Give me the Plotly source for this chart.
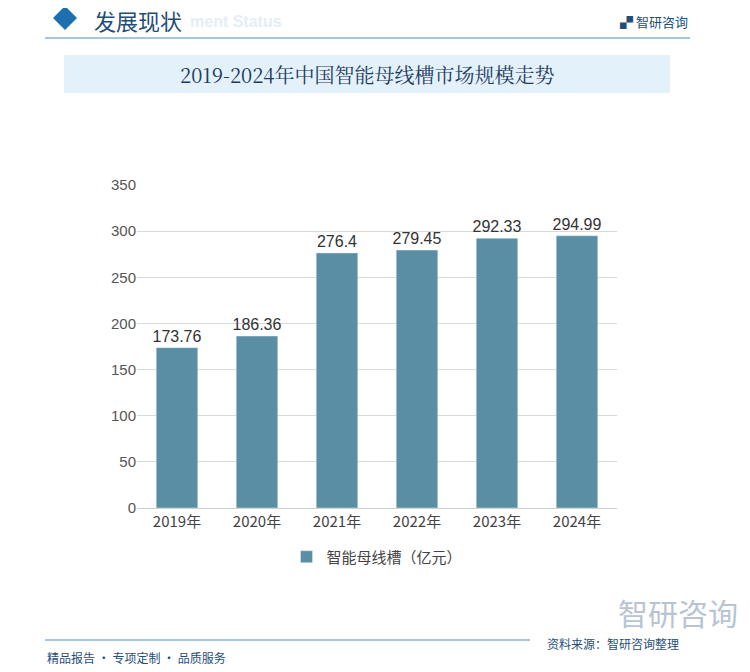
import plotly.graph_objects as go

years = ["2019年", "2020年", "2021年", "2022年", "2023年", "2024年"]
values = [173.76, 186.36, 276.4, 279.45, 292.33, 294.99]
labels = ["173.76", "186.36", "276.4", "279.45", "292.33", "294.99"]
series_name = "智能母线槽（亿元）"

W, H = 750, 672
OFF = 8  # page body margin
L, R, T, B = 137 - OFF, 133 + OFF, 185 - OFF, 164 + OFF
PW, PH = W - L - R, H - T - B

fig = go.Figure()
fig.add_trace(go.Bar(
    x=years, y=values, name=series_name, text=labels, textposition="outside",
    textfont=dict(size=16, color="#333333", family="Liberation Sans"),
    constraintext="none",
    marker=dict(color="#5a8ea4"), cliponaxis=False,
))

def px(x):
    return (x - OFF - L) / PW
def py(y):
    return (H - B - (y - OFF)) / PH

shapes = [
    dict(type="rect", x0=px(64), x1=px(670), y0=py(93), y1=py(55),
         fillcolor="#e3f1fb", line=dict(width=0), layer="below"),
    dict(type="line", x0=px(45), x1=px(690), y0=py(38), y1=py(38),
         line=dict(color="#4a8fc0", width=1)),
    dict(type="path",
         path=f"M {px(53)} {py(18)} L {px(65)} {py(6)} L {px(77)} {py(18)} L {px(65)} {py(30)} Z",
         fillcolor="#1e6fb0", line=dict(width=0)),
    dict(type="line", x0=px(45), x1=px(530), y0=py(640), y1=py(640),
         line=dict(color="#4a8fc0", width=1)),
]
for s in shapes:
    s.update(xref="paper", yref="paper")
ann = [
    dict(text="<b>ment Status</b>", x=px(188), y=py(22), xanchor="left", yanchor="middle",
         font=dict(size=16, color="#e6eef5", family="Liberation Sans")),
    dict(text="发展现状", x=px(92), y=py(20), xanchor="left", yanchor="middle",
         font=dict(size=22, color="#1f4e79", family="Noto Sans CJK SC")),
    dict(text="<b>▞</b> 智研咨询", x=px(690), y=py(22), xanchor="right", yanchor="middle",
         font=dict(size=13, color="#1f4e79", family="Noto Sans CJK SC")),
    dict(text="2019-2024年中国智能母线槽市场规模走势", x=px(367), y=py(74), xanchor="center", yanchor="middle",
         font=dict(size=20, color="#1f3a5f", family="Noto Serif CJK SC, Noto Sans CJK SC")),
    dict(text="精品报告 • 专项定制 • 品质服务", x=px(45), y=py(657), xanchor="left", yanchor="middle",
         font=dict(size=12, color="#1f4e79", family="Noto Sans CJK SC")),
    dict(text="资料来源：智研咨询整理", x=px(545), y=py(643), xanchor="left", yanchor="middle",
         font=dict(size=12, color="#1f4e79", family="Noto Sans CJK SC")),
    dict(text="智研咨询", x=px(740), y=py(612), xanchor="right", yanchor="middle",
         font=dict(size=30, color="#b8c4d2", family="Noto Sans CJK SC")),
]
for a in ann:
    a.update(xref="paper", yref="paper", showarrow=False)

fig.update_layout(
    width=W, height=H, paper_bgcolor="white", plot_bgcolor="white",
    margin=dict(l=L, r=R, t=T, b=B),
    bargap=0.48, showlegend=True,
    legend=dict(orientation="h", x=0.5, xanchor="center", y=py(557), yanchor="middle",
                font=dict(size=15, color="#444444", family="Noto Sans CJK SC")),
    xaxis=dict(showline=True, linecolor="#d0d0d0", tickfont=dict(size=15, color="#444444", family="Noto Sans CJK SC"),
               ticks=""),
    yaxis=dict(range=[0, 350], dtick=50, showgrid=True, gridcolor="#d9d9d9", zeroline=False,
               tickfont=dict(size=15, color="#555555", family="Liberation Sans"), ticks=""),
    shapes=shapes, annotations=ann,
)
fig.write_html("out.html")
